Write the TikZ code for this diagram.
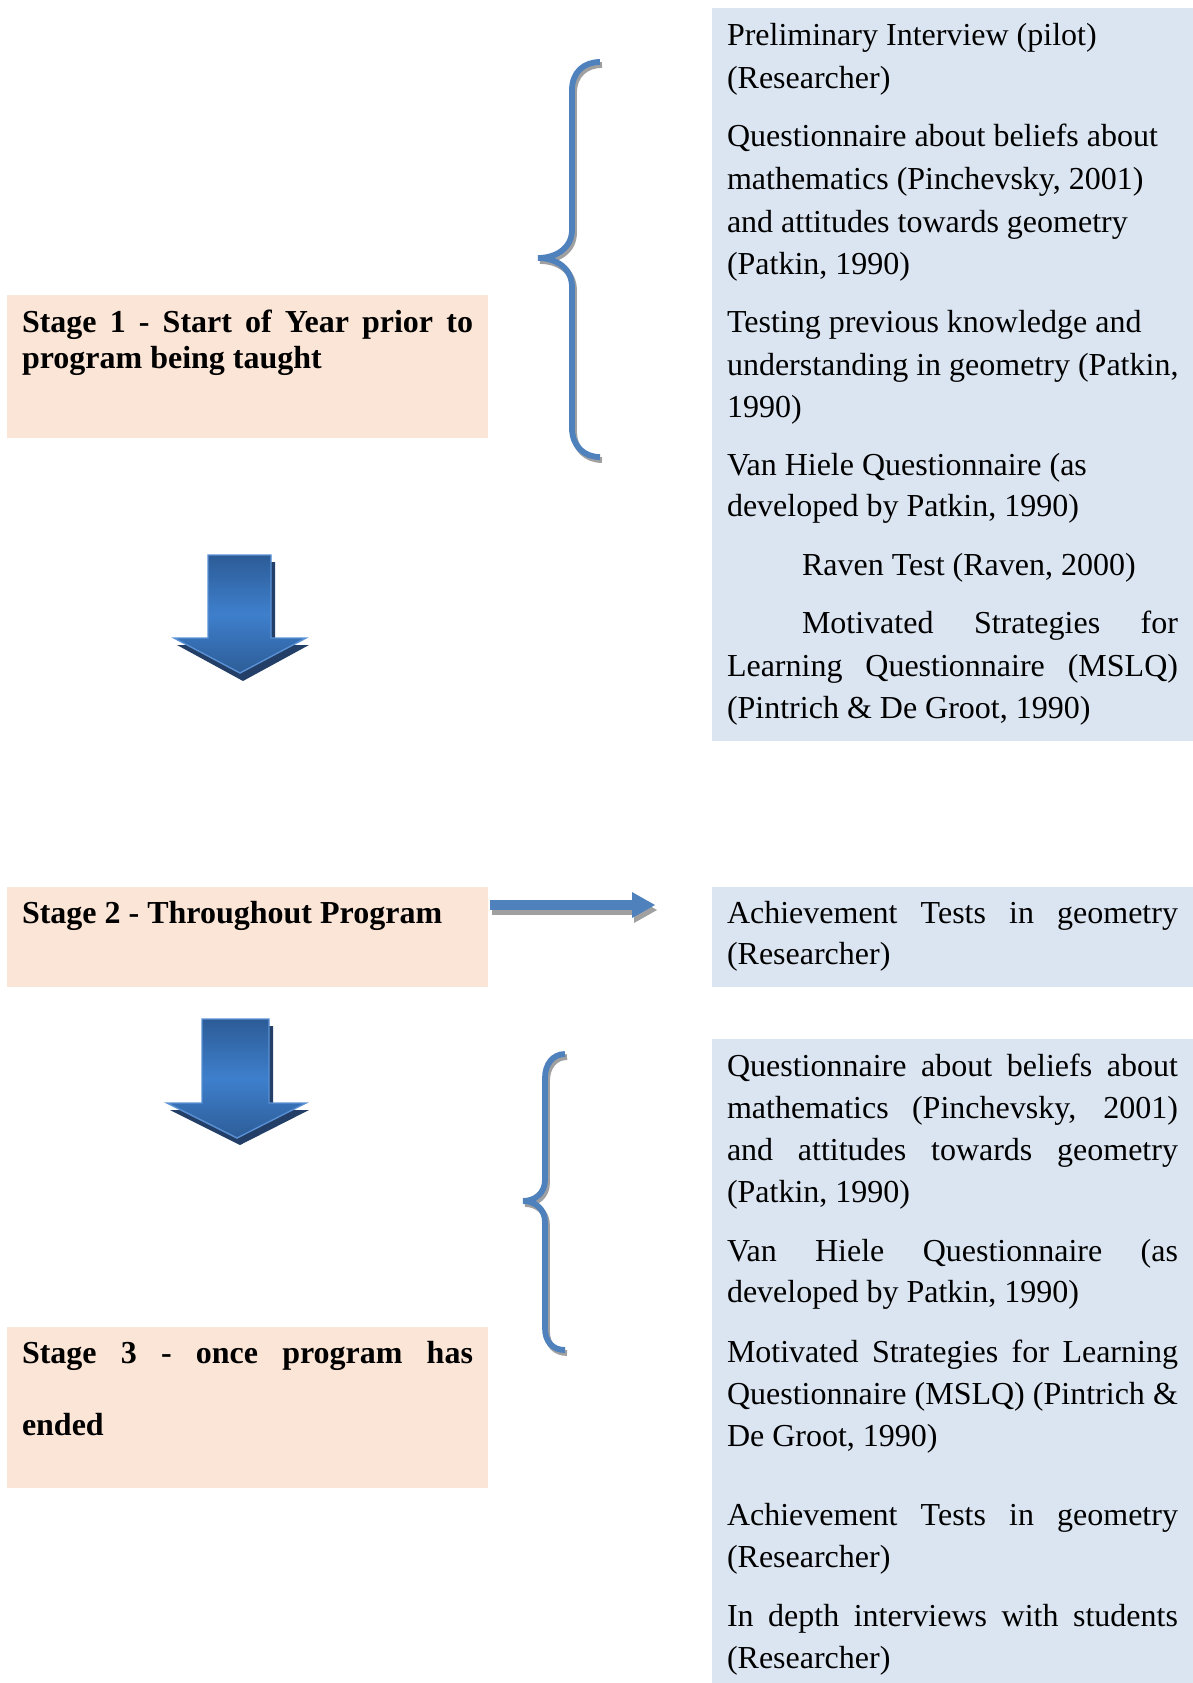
\documentclass[tikz,border=0pt]{standalone}
\usepackage{fontspec}
\setmainfont{Liberation Serif}
\definecolor{peach}{HTML}{FBE5D6}
\definecolor{lblue}{HTML}{DBE5F1}
\definecolor{braceblue}{HTML}{4F81BD}
\definecolor{shgray}{HTML}{A0A0A0}
\definecolor{arrtop}{HTML}{2C5C97}
\definecolor{arrmid}{HTML}{3E7FCC}
\definecolor{arrbot}{HTML}{2D5D98}
\definecolor{arrborder}{HTML}{5A90D4}
\definecolor{arrshadow}{HTML}{233F68}
\newcommand{\jst}[2][225.5pt]{\makebox[#1][s]{#2}}
\begin{document}
\begin{tikzpicture}[x=0.5pt,y=-0.5pt,
  box/.style={anchor=north west, inner sep=0pt, outer sep=0pt, minimum width=240.5pt, draw=none},
  txt/.style={anchor=base west, inner sep=0pt, outer sep=0pt, font=\fontsize{16}{19}\selectfont},
  btxt/.style={txt, font=\fontsize{16}{19}\selectfont\bfseries},
  bracestyle/.style={line width=2.9pt, draw=braceblue},
  braceshadow/.style={line width=2.9pt, draw=shgray},
  arrshade/.style={top color=arrtop, bottom color=arrbot, middle color=arrmid},
]
\useasboundingbox (0,0) rectangle (1193,1683);

% ---- boxes
\node[box, fill=peach, minimum height=71.5pt] (s1) at (7,295) {};
\node[box, fill=peach, minimum height=50pt] (s2) at (7,887) {};
\node[box, fill=peach, minimum height=80.5pt] (s3) at (7,1327) {};
\node[box, fill=lblue, minimum height=366.5pt] (r1) at (712,8) {};
\node[box, fill=lblue, minimum height=50pt] (r2) at (712,887) {};
\node[box, fill=lblue, minimum height=322pt] (r3) at (712,1039) {};

% ---- left texts
\node[btxt] (s1a) at (22,332) {\jst{Stage 1 - Start of Year prior to}};
\node[btxt] (s1b) at (22,368) {program being taught};
\node[btxt] (s2a) at (22,923) {Stage 2 - Throughout Program};
\node[btxt] (s3a) at (22,1363) {\jst{Stage 3 - once program has}};
\node[btxt] (s3b) at (22,1435) {ended};

% ---- right box 1
\node[txt] (a1) at (727,45) {Preliminary Interview (pilot)};
\node[txt] (a2) at (727,88) {(Researcher)};
\node[txt] (a3) at (727,146) {Questionnaire about beliefs about};
\node[txt] (a4) at (727,189) {mathematics (Pinchevsky, 2001)};
\node[txt] (a5) at (727,232) {and attitudes towards geometry};
\node[txt] (a6) at (727,274) {(Patkin, 1990)};
\node[txt] (a7) at (727,332) {Testing previous knowledge and};
\node[txt] (a8) at (727,375) {understanding in geometry (Patkin,};
\node[txt] (a9) at (727,417) {1990)};
\node[txt] (a10) at (727,475) {Van Hiele Questionnaire (as};
\node[txt] (a11) at (727,516) {developed by Patkin, 1990)};
\node[txt] (a12) at (802,575) {Raven Test (Raven, 2000)};
\node[txt] (a13) at (802,633) {\jst[188pt]{Motivated Strategies for}};
\node[txt] (a14) at (727,676) {\jst{Learning Questionnaire (MSLQ)}};
\node[txt] (a15) at (727,718) {(Pintrich \& De Groot, 1990)};

% ---- right box 2
\node[txt] (b1) at (727,923) {\jst{Achievement Tests in geometry}};
\node[txt] (b2) at (727,964) {(Researcher)};

% ---- right box 3
\node[txt] (c1) at (727,1076) {\jst{Questionnaire about beliefs about}};
\node[txt] (c2) at (727,1118) {\jst{mathematics (Pinchevsky, 2001)}};
\node[txt] (c3) at (727,1160) {\jst{and attitudes towards geometry}};
\node[txt] (c4) at (727,1202) {(Patkin, 1990)};
\node[txt] (c5) at (727,1261) {\jst{Van Hiele Questionnaire (as}};
\node[txt] (c6) at (727,1302) {developed by Patkin, 1990)};
\node[txt] (c7) at (727,1362) {\jst{Motivated Strategies for Learning}};
\node[txt] (c8) at (727,1404) {\jst{Questionnaire (MSLQ) (Pintrich \&}};
\node[txt] (c9) at (727,1446) {De Groot, 1990)};
\node[txt] (c10) at (727,1525) {\jst{Achievement Tests in geometry}};
\node[txt] (c11) at (727,1567) {(Researcher)};
\node[txt] (c12) at (727,1626) {\jst{In depth interviews with students}};
\node[txt] (c13) at (727,1668) {(Researcher)};

% ---- brace 1
\begin{scope}[shift={(2,3)}]
\draw[braceshadow] (600,62) .. controls (584,62) and (572,72) .. (572,90) -- (572,230)
  .. controls (572,248) and (556,258) .. (538,258)
  .. controls (556,258) and (572,268) .. (572,287) -- (572,428)
  .. controls (572,446) and (584,457) .. (600,457);
\end{scope}
\draw[bracestyle] (600,62) .. controls (584,62) and (572,72) .. (572,90) -- (572,230)
  .. controls (572,248) and (556,258) .. (538,258)
  .. controls (556,258) and (572,268) .. (572,287) -- (572,428)
  .. controls (572,446) and (584,457) .. (600,457);

% ---- brace 2
\begin{scope}[shift={(2,3)}]
\draw[braceshadow] (565,1054) .. controls (553,1054) and (545,1064) .. (545,1078) -- (545,1180)
  .. controls (545,1193) and (535,1201) .. (523,1201)
  .. controls (535,1201) and (545,1209) .. (545,1222) -- (545,1328)
  .. controls (545,1342) and (553,1350) .. (565,1350);
\end{scope}
\draw[bracestyle] (565,1054) .. controls (553,1054) and (545,1064) .. (545,1078) -- (545,1180)
  .. controls (545,1193) and (535,1201) .. (523,1201)
  .. controls (535,1201) and (545,1209) .. (545,1222) -- (545,1328)
  .. controls (545,1342) and (553,1350) .. (565,1350);

% ---- down arrow 1
\fill[arrshadow] (212,562) -- (275,562) -- (275,645) -- (309,645) -- (243,681) -- (177,645) -- (212,645) -- cycle;
\shade[arrshade]
  (208,555) -- (271,555) -- (271,638) -- (306,638) -- (240,673) -- (174,638) -- (208,638) -- cycle;
\draw[arrborder, line width=0.7pt, line join=miter]
  (208,555) -- (271,555) -- (271,638) -- (306,638) -- (240,673) -- (174,638) -- (208,638) -- cycle;

% ---- down arrow 2
\fill[arrshadow] (206,1026) -- (273,1026) -- (273,1110) -- (309,1110) -- (240,1145) -- (170,1110) -- (206,1110) -- cycle;
\shade[arrshade]
  (202,1019) -- (269,1019) -- (269,1103) -- (306,1103) -- (237,1138) -- (167,1103) -- (202,1103) -- cycle;
\draw[arrborder, line width=0.7pt, line join=miter]
  (202,1019) -- (269,1019) -- (269,1103) -- (306,1103) -- (237,1138) -- (167,1103) -- (202,1103) -- cycle;

% ---- right arrow (stage 2)
\coordinate (ra) at (490,905);
\coordinate (rb) at (655,905);
\fill[shgray, transform canvas={shift={(1pt,-2.5pt)}}] ([yshift=-2.4pt]ra) -- ([xshift=-11.5pt,yshift=-2.4pt]rb) -- ([xshift=-11.5pt,yshift=-6.5pt]rb) -- (rb)
  -- ([xshift=-11.5pt,yshift=6.5pt]rb) -- ([xshift=-11.5pt,yshift=2.4pt]rb) -- ([yshift=2.4pt]ra) -- cycle;
\fill[braceblue] ([yshift=-2.4pt]ra) -- ([xshift=-11.5pt,yshift=-2.4pt]rb) -- ([xshift=-11.5pt,yshift=-6.5pt]rb) -- (rb)
  -- ([xshift=-11.5pt,yshift=6.5pt]rb) -- ([xshift=-11.5pt,yshift=2.4pt]rb) -- ([yshift=2.4pt]ra) -- cycle;
\end{tikzpicture}
\end{document}
